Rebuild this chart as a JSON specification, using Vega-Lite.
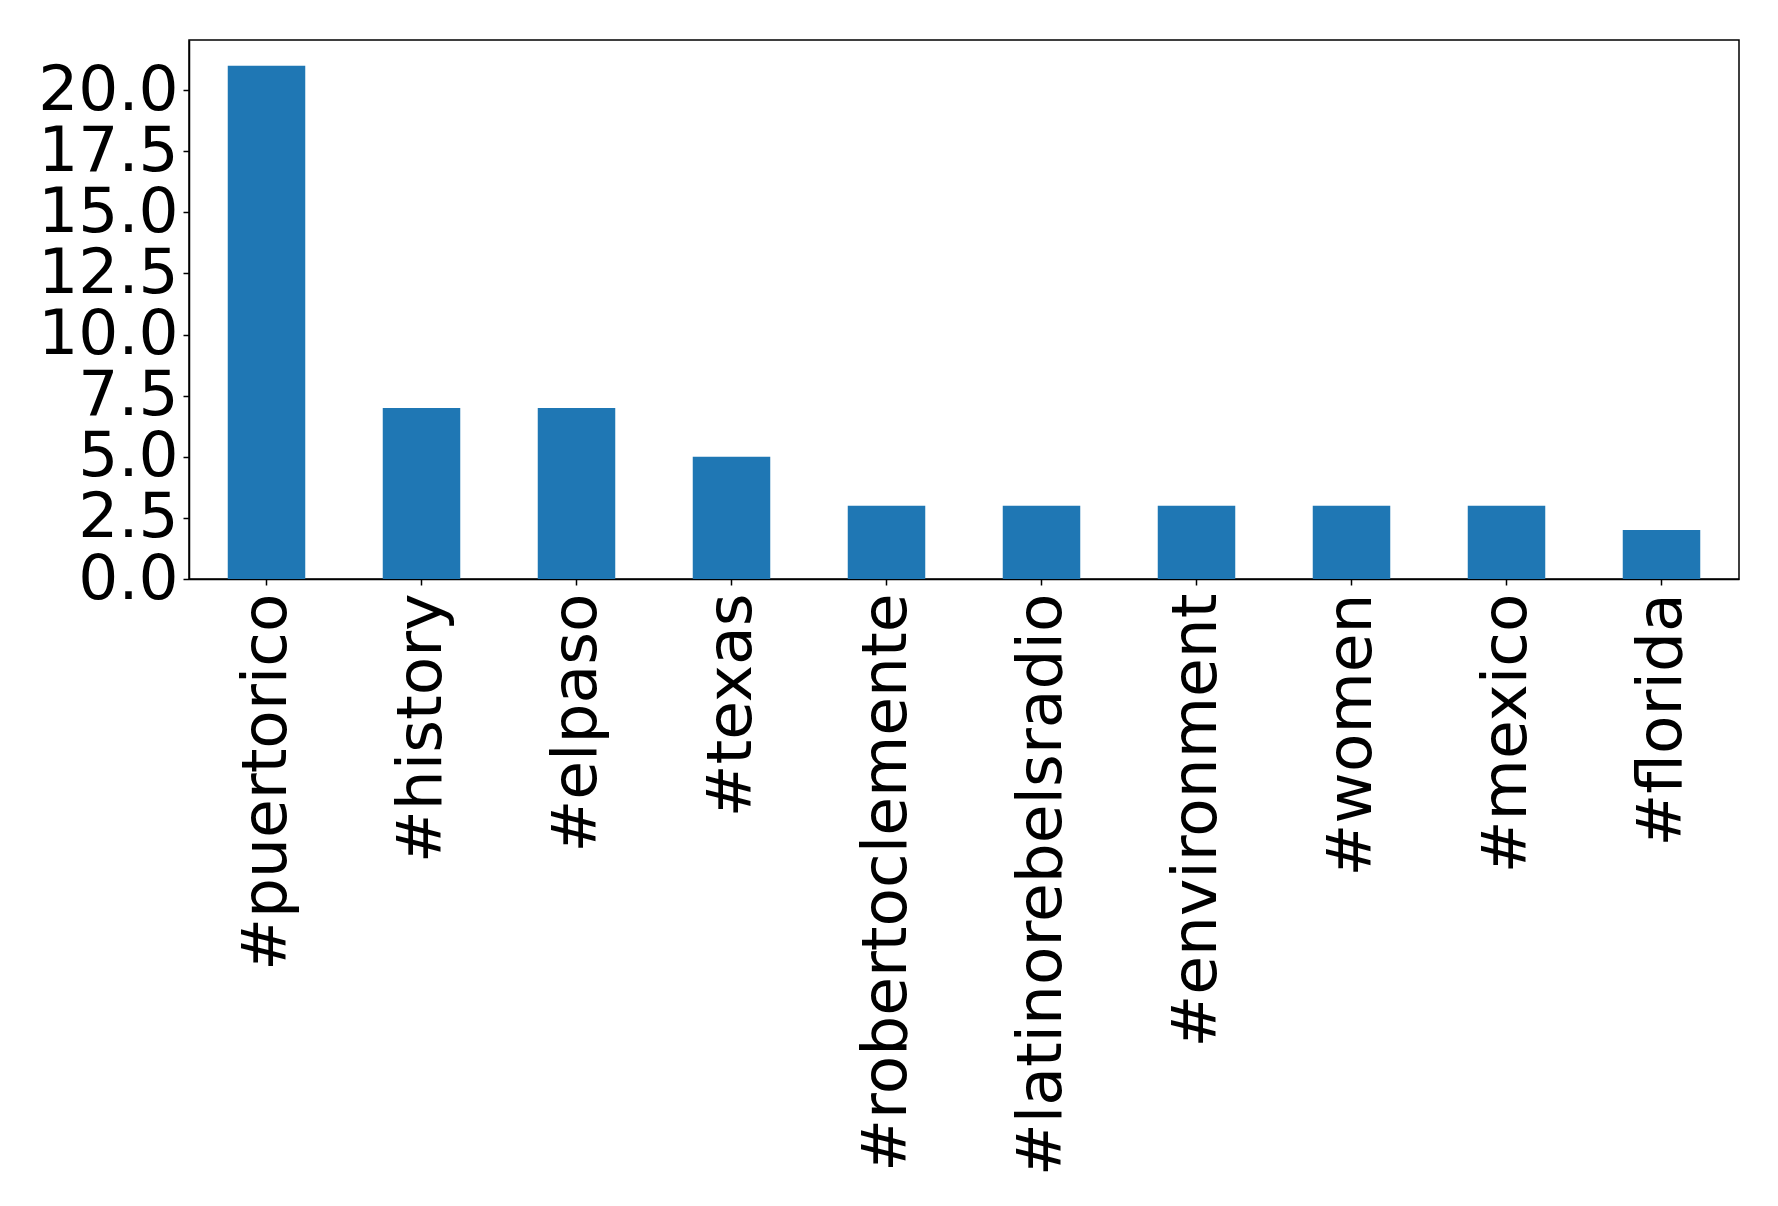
{
  "$schema": "https://vega.github.io/schema/vega-lite/v6.json",
  "autosize": "none",
  "width": 1550,
  "height": 539,
  "padding": {"left": 189, "top": 40, "right": 39, "bottom": 627},
  "background": "white",
  "config": {
    "view": {"stroke": "black", "strokeWidth": 1.5},
    "font": "DejaVu Sans",
    "axis": {
      "labelFont": "DejaVu Sans",
      "labelColor": "black",
      "domainColor": "black",
      "domainWidth": 1.5,
      "tickColor": "black",
      "tickWidth": 1.5,
      "grid": false,
      "title": null
    }
  },
  "data": {
    "values": [
      {"tag": "#puertorico", "count": 21},
      {"tag": "#history", "count": 7},
      {"tag": "#elpaso", "count": 7},
      {"tag": "#texas", "count": 5},
      {"tag": "#robertoclemente", "count": 3},
      {"tag": "#latinorebelsradio", "count": 3},
      {"tag": "#environment", "count": 3},
      {"tag": "#women", "count": 3},
      {"tag": "#mexico", "count": 3},
      {"tag": "#florida", "count": 2}
    ]
  },
  "mark": {"type": "bar", "color": "#1f77b4"},
  "encoding": {
    "x": {
      "field": "tag",
      "type": "nominal",
      "sort": null,
      "scale": {"paddingInner": 0.5, "paddingOuter": 0.25},
      "axis": {
        "labelAngle": -90,
        "labelAlign": "right",
        "labelBaseline": "middle",
        "labelFontSize": 63,
        "tickSize": 6,
        "labelPadding": 8,
        "labelLimit": 0,
        "labelOverlap": false,
        "title": null
      }
    },
    "y": {
      "field": "count",
      "type": "quantitative",
      "scale": {"domain": [0, 22.05], "nice": false},
      "axis": {
        "values": [0, 2.5, 5, 7.5, 10, 12.5, 15, 17.5, 20],
        "format": ".1f",
        "labelFontSize": 63,
        "tickSize": 6,
        "labelPadding": 5,
        "labelBaseline": "middle",
        "labelOverlap": false,
        "labelFlush": false,
        "title": null
      }
    }
  }
}
